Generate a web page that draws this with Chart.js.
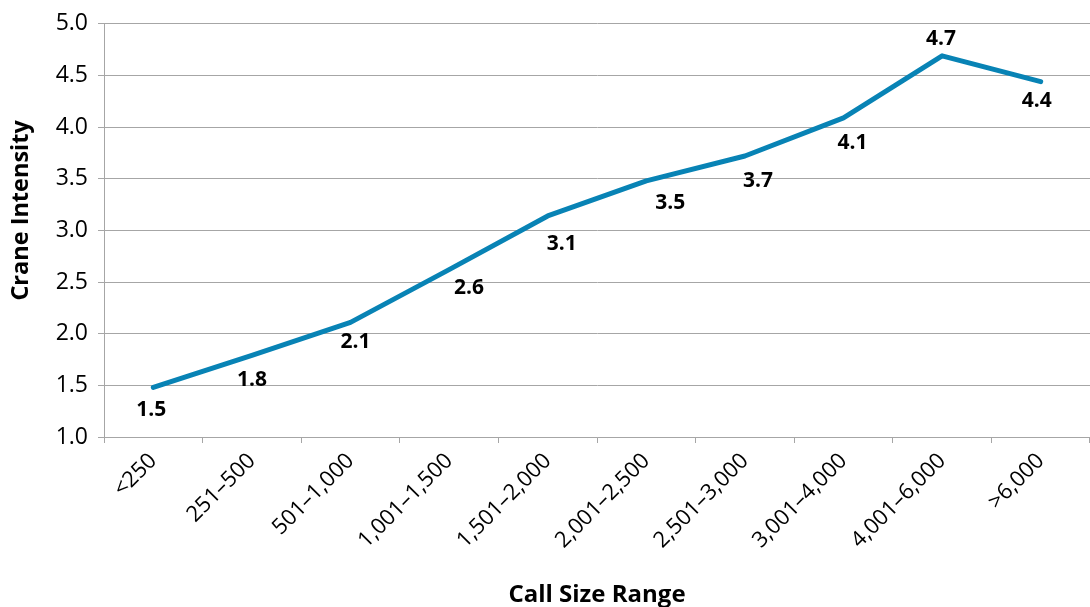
<!DOCTYPE html>
<html>
<head>
<meta charset="utf-8">
<script src="https://cdn.jsdelivr.net/npm/chart.js@4/dist/chart.umd.min.js"></script>
<style>
  html, body { margin: 0; padding: 0; background: #fff; overflow: hidden; }
  #wrap { width: 1090px; height: 607px; }
</style>
</head>
<body>
<div id="wrap"><canvas id="lineChart"></canvas></div>
<script>
const callSizes = ['<250', '251–500', '501–1,000', '1,001–1,500', '1,501–2,000', '2,001–2,500', '2,501–3,000', '3,001–4,000', '4,001–6,000', '>6,000'];
const craneIntensity = [1.48, 1.79, 2.11, 2.62, 3.14, 3.48, 3.72, 4.09, 4.69, 4.44];
const yTicks = [1.0, 1.5, 2.0, 2.5, 3.0, 3.5, 4.0, 4.5, 5.0];
const yTitle = 'Crane Intensity';
const xTitle = 'Call Size Range';

// where each value label sits relative to its point (px)
const labelShift = [[-2, 23], [0, 25], [5, 20], [20, 18], [14, 28], [24, 22], [13, 25], [9, 25], [-1, -17], [-4, 19]];

const valueLabels = {
    id: 'valueLabels',
    afterDatasetsDraw(chart) {
        const ctx = chart.ctx;
        const meta = chart.getDatasetMeta(0);
        ctx.save();
        ctx.font = 'bold 21px "Open Sans"';
        ctx.fillStyle = '#000';
        ctx.textAlign = 'center';
        ctx.textBaseline = 'middle';
        meta.data.forEach((pt, i) => {
            const s = labelShift[i];
            ctx.fillText(craneIntensity[i].toFixed(1), pt.x + s[0], pt.y + s[1]);
        });
        ctx.restore();
    }
};

// y title sits a bit above the middle of the axis in the original
const sideTitle = {
    id: 'sideTitle',
    afterDraw(chart) {
        const ctx = chart.ctx;
        const area = chart.chartArea;
        ctx.save();
        ctx.translate(21, (area.top + area.bottom) / 2 - 20);
        ctx.rotate(-Math.PI / 2);
        ctx.font = 'bold 23.5px "Open Sans"';
        ctx.fillStyle = '#000';
        ctx.textAlign = 'center';
        ctx.textBaseline = 'middle';
        ctx.fillText(yTitle, 0, 0);
        ctx.restore();
    }
};

Chart.defaults.font.family = '"Open Sans"';
Chart.defaults.color = '#000';

new Chart(document.getElementById('lineChart'), {
    type: 'line',
    data: {
        labels: callSizes,
        datasets: [{
            label: yTitle,
            data: craneIntensity,
            borderColor: '#0883b5',
            borderWidth: 5,
            pointRadius: 0,
            tension: 0,
            borderCapStyle: 'round',
            borderJoinStyle: 'round'
        }]
    },
    options: {
        responsive: true,
        maintainAspectRatio: false,
        animation: false,
        layout: { padding: { top: 20, left: 0, right: 0, bottom: 0 } },
        plugins: {
            legend: { display: false },
            tooltip: { enabled: false }
        },
        scales: {
            x: {
                offset: true,
                afterFit: axis => { axis.height = 170; },
                grid: {
                    offset: true,
                    drawOnChartArea: false,
                    drawTicks: true,
                    tickLength: 6,
                    color: '#a6a6a6'
                },
                border: { color: '#a6a6a6' },
                ticks: {
                    maxRotation: 45,
                    minRotation: 45,
                    padding: 5,
                    font: { size: 22 },
                    color: '#000'
                },
                title: {
                    display: true,
                    text: xTitle,
                    font: { size: 24, weight: 'bold', lineHeight: 1 },
                    padding: { top: 0, bottom: 0 },
                    color: '#000'
                }
            },
            y: {
                min: 1,
                max: 5,
                afterFit: axis => { axis.width = 104; },
                afterBuildTicks: axis => { axis.ticks = yTicks.map(v => ({ value: v })); },
                grid: {
                    color: '#a6a6a6',
                    tickLength: 6
                },
                border: { color: '#a6a6a6' },
                ticks: {
                    padding: 10,
                    font: { size: 23 },
                    color: '#000',
                    callback: v => v.toFixed(1)
                }
            }
        }
    },
    plugins: [valueLabels, sideTitle]
});
</script>
</body>
</html>
